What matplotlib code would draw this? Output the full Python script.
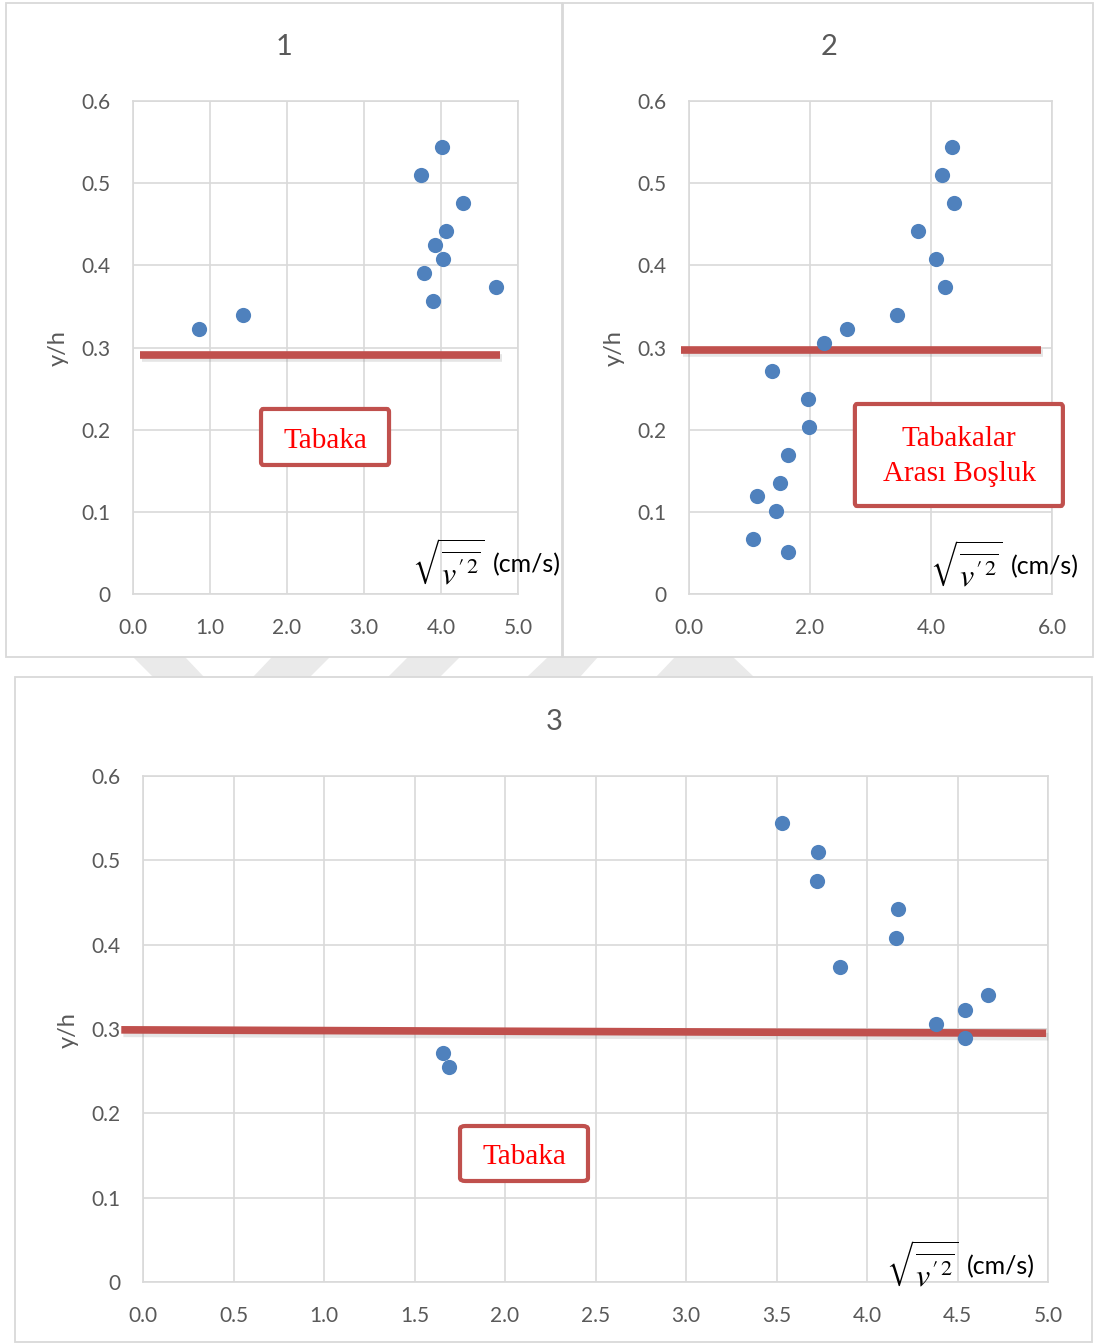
import matplotlib
matplotlib.use("Agg")
import matplotlib.pyplot as plt
import matplotlib.patheffects as pe
from matplotlib.patches import Rectangle, FancyBboxPatch, Polygon
from matplotlib.text import Annotation

plt.rcParams["font.family"] = ["Lato", "DejaVu Sans"]
plt.rcParams["mathtext.fontset"] = "stix"

# ---- data ----
# panel 1
p1_x = [0.86, 1.43, 4.01, 3.74, 4.29, 4.07, 3.92, 4.02, 3.78, 4.71, 3.90]
p1_y = [0.323, 0.340, 0.544, 0.510, 0.476, 0.442, 0.425, 0.408, 0.391, 0.374, 0.357]
p1_line_x = [0.09, 4.77]
p1_line_y = [0.291, 0.291]

# panel 2
p2_x = [4.34, 4.19, 4.38, 3.79, 4.08, 4.23, 3.44, 2.61, 2.23, 1.37,
        1.96, 1.99, 1.63, 1.51, 1.13, 1.44, 1.06, 1.63]
p2_y = [0.544, 0.510, 0.476, 0.442, 0.408, 0.374, 0.340, 0.323, 0.306, 0.272,
        0.237, 0.203, 0.169, 0.135, 0.119, 0.101, 0.067, 0.051]
p2_line_x = [-0.13, 5.82]
p2_line_y = [0.297, 0.297]

# panel 3
p3_x = [3.53, 3.73, 3.725, 4.17, 4.16, 3.85, 4.67, 4.54, 4.38, 4.54, 1.66, 1.69]
p3_y = [0.544, 0.510, 0.476, 0.442, 0.408, 0.374, 0.340, 0.323, 0.306, 0.289, 0.272, 0.255]
p3_line_x = [-0.12, 4.99]
p3_line_y = [0.299, 0.295]

y_ticks = [0, 0.1, 0.2, 0.3, 0.4, 0.5, 0.6]
y_labels = ["0", "0.1", "0.2", "0.3", "0.4", "0.5", "0.6"]
p1_xticks = [0.0, 1.0, 2.0, 3.0, 4.0, 5.0]
p2_xticks = [0.0, 2.0, 4.0, 6.0]
p3_xticks = [0.0, 0.5, 1.0, 1.5, 2.0, 2.5, 3.0, 3.5, 4.0, 4.5, 5.0]

BLUE = "#4F81BD"
RED = "#C0504D"
GRID = "#d9d9d9"
TXT = "#595959"
W, H = 1094, 1343
XMATH = r"$\sqrt{\overline{v'^2}}$"


def fx(px):
    return px / W


def fy(py):
    return 1 - py / H


fig = plt.figure(figsize=(W / 100, H / 100), dpi=100)

# faint watermark stripes showing in the gap between the rows
for top, bot in [((133, 185), (153, 204)), ((272, 330), (253, 310)), ((408, 460), (388, 440)),
                 ((548, 598), (527, 580)), ((675, 733), (656, 754))]:
    pts = [(fx(top[0]), fy(657)), (fx(top[1]), fy(657)), (fx(bot[1]), fy(677)), (fx(bot[0]), fy(677))]
    fig.patches.append(Polygon(pts, closed=True, transform=fig.transFigure,
                               facecolor="#eaeaea", edgecolor="none", zorder=-2))

# panel frames
for x0, y0, x1, y1 in [(6, 3, 562, 657), (563, 3, 1093, 657), (15, 677, 1092, 1342)]:
    fig.patches.append(Rectangle((fx(x0), fy(y1)), fx(x1 - x0), (y1 - y0) / H,
                                 transform=fig.transFigure, facecolor="white",
                                 edgecolor=GRID, lw=1.3, zorder=-1))


def setup(ax, xticks, xlim):
    ax.set_xlim(xlim)
    ax.set_ylim(0, 0.6)
    ax.set_xticks(xticks)
    ax.set_xticklabels([f"{v:.1f}" for v in xticks])
    ax.set_yticks(y_ticks)
    ax.set_yticklabels(y_labels)
    ax.grid(True, color=GRID, lw=1.2)
    ax.set_axisbelow(True)
    for s in ax.spines.values():
        s.set_color(GRID)
        s.set_linewidth(1.2)
    ax.tick_params(length=0, labelsize=15, colors=TXT)
    ax.tick_params(axis="x", pad=17)
    ax.tick_params(axis="y", pad=16)


def red_line(ax, xs, ys):
    ax.plot(xs, ys, color=RED, lw=5.5, solid_capstyle="butt", clip_on=False, zorder=3,
            path_effects=[pe.SimpleLineShadow(offset=(1.5, -2.5), shadow_color="gray", alpha=0.2),
                          pe.Normal()])


def label_box(ax, x0, y0, x1, y1, text, tx, ty):
    ax.add_patch(FancyBboxPatch((x0, y0), x1 - x0, y1 - y0, transform=ax.transAxes,
                                boxstyle="round,pad=0,rounding_size=0.006",
                                facecolor="white", edgecolor=RED, lw=3, clip_on=False, zorder=4))
    ax.text(tx, ty, text, transform=ax.transAxes, ha="center", va="center",
            color="#FF0000", fontsize=21, family="Liberation Serif", linespacing=1.45, zorder=5)


def x_label(px, py):
    t = fig.text(fx(px), fy(py), "(cm/s)", ha="right", va="center", fontsize=18, color="black")
    fig.add_artist(Annotation(XMATH, xy=(0, 0.45), xycoords=t,
                              xytext=(-6, 0), textcoords="offset points",
                              ha="right", va="center", fontsize=23, color="black"))


# panel 1
ax1 = fig.add_axes([fx(133), fy(594), fx(518 - 133), (594 - 101) / H])
setup(ax1, p1_xticks, (0, 5))
red_line(ax1, p1_line_x, p1_line_y)
ax1.scatter(p1_x, p1_y, s=120, color=BLUE, linewidths=0, zorder=6)
label_box(ax1, 0.3325, 0.2617, 0.665, 0.3753, "Tabaka", 0.4987, 0.31)
fig.text(fx(284), fy(47), "1", ha="center", va="center", fontsize=21, color=TXT)
fig.text(fx(58), fy(348), "y/h", ha="center", va="center", rotation=90, fontsize=17, color=TXT)
x_label(561, 565)

# panel 2
ax2 = fig.add_axes([fx(689), fy(594), fx(1052 - 689), (594 - 101) / H])
setup(ax2, p2_xticks, (0, 6))
red_line(ax2, p2_line_x, p2_line_y)
ax2.scatter(p2_x, p2_y, s=120, color=BLUE, linewidths=0, zorder=6)
label_box(ax2, 0.457, 0.1785, 1.030, 0.3854, "Tabakalar\nArası Boşluk", 0.744, 0.279)
fig.text(fx(829), fy(47), "2", ha="center", va="center", fontsize=21, color=TXT)
fig.text(fx(614), fy(348), "y/h", ha="center", va="center", rotation=90, fontsize=17, color=TXT)
x_label(1079, 567)

# panel 3
ax3 = fig.add_axes([fx(143), fy(1282), fx(1048 - 143), (1282 - 776) / H])
setup(ax3, p3_xticks, (0, 5))
red_line(ax3, p3_line_x, p3_line_y)
ax3.scatter(p3_x, p3_y, s=120, color=BLUE, linewidths=0, zorder=6)
label_box(ax3, 0.3503, 0.1996, 0.4917, 0.3083, "Tabaka", 0.421, 0.247)
fig.text(fx(554), fy(722), "3", ha="center", va="center", fontsize=21, color=TXT)
fig.text(fx(68), fy(1030), "y/h", ha="center", va="center", rotation=90, fontsize=17, color=TXT)
x_label(1035, 1267)

fig.savefig("out.png", dpi=100, facecolor="white")
